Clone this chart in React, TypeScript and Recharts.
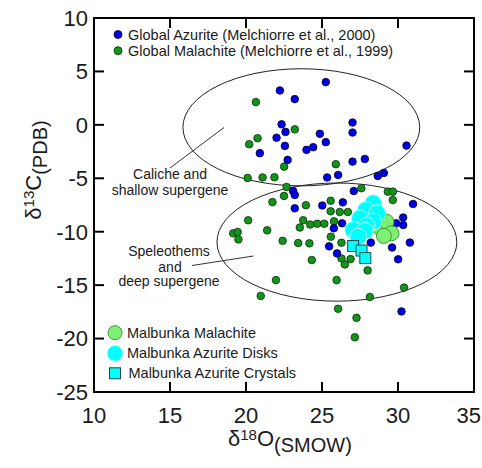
import React from 'react';
import { ScatterChart, Scatter, XAxis, YAxis, ReferenceArea, ReferenceLine } from 'recharts';

const xTicks = [10, 15, 20, 25, 30, 35];
const yTicks = [10, 5, 0, -5, -10, -15, -20, -25];

const globalAzurite = [
  { x: 25.25, y: 4.0 }, { x: 22.23, y: 3.22 }, { x: 23.21, y: 2.41 }, { x: 27.01, y: 0.22 },
  { x: 22.34, y: 0.05 }, { x: 22.6, y: -0.66 }, { x: 22.01, y: -1.2 }, { x: 22.56, y: -1.97 },
  { x: 20.91, y: -2.65 }, { x: 22.74, y: -3.28 }, { x: 23.98, y: -2.34 }, { x: 24.42, y: -2.09 },
  { x: 24.86, y: -0.84 }, { x: 25.25, y: -1.62 }, { x: 27.01, y: -0.72 }, { x: 27.01, y: -3.44 },
  { x: 27.82, y: -3.19 }, { x: 30.56, y: -1.94 }, { x: 25.34, y: -4.92 }, { x: 26.06, y: -4.69 },
  { x: 28.67, y: -4.78 }, { x: 29.07, y: -4.5 }, { x: 23.1, y: -6.19 }, { x: 23.21, y: -6.56 },
  { x: 27.09, y: -6.19 }, { x: 23.21, y: -7.81 }, { x: 25.02, y: -7.55 }, { x: 26.37, y: -7.25 },
  { x: 30.99, y: -7.4 }, { x: 25.78, y: -9.68 }, { x: 26.32, y: -9.21 }, { x: 30.34, y: -8.67 },
  { x: 29.88, y: -9.21 }, { x: 30.34, y: -9.37 }, { x: 25.47, y: -11.37 }, { x: 25.99, y: -12.03 },
  { x: 28.21, y: -11.02 }, { x: 29.61, y: -11.48 }, { x: 30.78, y: -11.02 }, { x: 30.01, y: -12.58 },
  { x: 30.23, y: -17.46 },
];

const globalMalachite = [
  { x: 20.65, y: 2.13 }, { x: 23.21, y: -0.42 }, { x: 20.76, y: -1.25 }, { x: 20.21, y: -1.81 },
  { x: 25.91, y: -3.68 }, { x: 22.51, y: -3.91 }, { x: 20.11, y: -4.97 }, { x: 21.09, y: -4.92 },
  { x: 21.87, y: -4.9 }, { x: 22.67, y: -5.81 }, { x: 22.5, y: -6.65 }, { x: 27.59, y: -5.93 },
  { x: 29.33, y: -6.25 }, { x: 29.66, y: -6.25 }, { x: 29.66, y: -7.03 }, { x: 21.74, y: -7.23 },
  { x: 23.94, y: -7.52 }, { x: 25.57, y: -7.1 }, { x: 25.57, y: -8.09 }, { x: 26.17, y: -8.15 },
  { x: 26.7, y: -8.15 }, { x: 20.14, y: -8.93 }, { x: 21.39, y: -9.87 }, { x: 23.76, y: -8.93 },
  { x: 23.54, y: -9.61 }, { x: 24.22, y: -9.33 }, { x: 24.69, y: -9.25 }, { x: 25.15, y: -9.25 },
  { x: 25.79, y: -9.03 }, { x: 19.16, y: -10.15 }, { x: 19.45, y: -10.03 }, { x: 19.5, y: -10.72 },
  { x: 22.41, y: -10.85 }, { x: 23.43, y: -11.06 }, { x: 24.17, y: -11.09 }, { x: 25.58, y: -10.47 },
  { x: 26.28, y: -11.03 }, { x: 24.33, y: -12.65 }, { x: 26.28, y: -12.5 }, { x: 26.88, y: -12.56 },
  { x: 26.5, y: -13.06 }, { x: 28.0, y: -13.62 }, { x: 21.97, y: -14.53 }, { x: 25.96, y: -14.53 },
  { x: 20.97, y: -16.01 }, { x: 30.4, y: -15.23 }, { x: 28.15, y: -16.11 }, { x: 26.06, y: -17.21 },
  { x: 27.27, y: -18.06 }, { x: 27.16, y: -19.88 },
];

const malbunkaMalachite = [
  { x: 28.85, y: -9.68 }, { x: 29.24, y: -9.06 }, { x: 29.57, y: -10.14 }, { x: 29.07, y: -10.39 },
];

const malbunkaAzuriteDisks = [
  { x: 28.36, y: -7.33 }, { x: 27.88, y: -7.97 }, { x: 28.63, y: -8.28 }, { x: 27.49, y: -8.75 },
  { x: 28.36, y: -9.06 }, { x: 27.93, y: -9.44 }, { x: 27.05, y: -9.84 }, { x: 27.82, y: -9.94 },
  { x: 27.38, y: -10.47 },
];

const malbunkaAzuriteCrystals = [
  { x: 27.05, y: -11.34 }, { x: 27.6, y: -11.76 }, { x: 27.85, y: -12.47 },
];

// Field ellipses in data units: centre and semi-axes
const fieldEllipses = [
  { cx: 23.64, cy: -0.23, rx: 7.79, ry: 5.48 },
  { cx: 25.98, cy: -10.97, rx: 7.89, ry: 5.53 },
];

const X_MIN = 10, X_MAX = 35, Y_MIN = -25, Y_MAX = 10;
const TICK_LEN = 10;

const FONT = '"Liberation Sans", Arial, Helvetica, sans-serif';
const TXT = '#1a1a1a';
const TICK_FS = 22;

const circleShape = (r: number, fill: string, stroke: string, sw: number) => (p: any) => (
  <circle cx={p.cx} cy={p.cy} r={r} fill={fill} stroke={stroke} strokeWidth={sw} />
);
const squareShape = (s: number, fill: string, stroke: string) => (p: any) => (
  <rect x={p.cx - s / 2} y={p.cy - s / 2} width={s} height={s} fill={fill} stroke={stroke} strokeWidth={1} />
);
const ellipseShape = (p: any) => (
  <ellipse
    cx={p.x + p.width / 2}
    cy={p.y + p.height / 2}
    rx={Math.abs(p.width) / 2}
    ry={Math.abs(p.height) / 2}
    fill="none"
    stroke="#222"
    strokeWidth={1}
  />
);

// Frame with inward tick marks, drawn from the plot rectangle that Recharts hands to a ReferenceArea
const frameShape = (p: any) => {
  const x0 = p.x, y0 = p.y, w = p.width, h = p.height;
  const x1 = x0 + w, y1 = y0 + h;
  const sx = (v: number) => x0 + ((v - X_MIN) / (X_MAX - X_MIN)) * w;
  const sy = (v: number) => y1 - ((v - Y_MIN) / (Y_MAX - Y_MIN)) * h;
  const segs: any[] = [];
  xTicks.forEach((t) => {
    const px = sx(t);
    segs.push(<line key={'b' + t} x1={px} x2={px} y1={y1} y2={y1 - TICK_LEN} />);
    segs.push(<line key={'t' + t} x1={px} x2={px} y1={y0} y2={y0 + TICK_LEN} />);
  });
  yTicks.forEach((t) => {
    const py = sy(t);
    segs.push(<line key={'l' + t} x1={x0} x2={x0 + TICK_LEN} y1={py} y2={py} />);
    segs.push(<line key={'r' + t} x1={x1} x2={x1 - TICK_LEN} y1={py} y2={py} />);
  });
  return (
    <g stroke="#000" strokeWidth={2} fill="none">
      <rect x={x0} y={y0} width={w} height={h} />
      {segs}
    </g>
  );
};

const BOTTOM_MARGIN = 15;
const BottomTick = (p: any) => {
  const { x, y, payload, index } = p;
  const last = index === xTicks.length - 1;
  return (
    <text
      x={last ? x + 7 : x}
      y={y + TICK_FS * 0.71}
      textAnchor={last ? 'end' : 'middle'}
      fontSize={TICK_FS}
      fontFamily={FONT}
      fill={TXT}
    >
      {payload.value}
    </text>
  );
};
const LEFT_MARGIN = 6;
const LeftTick = (p: any) => {
  const { x, y, payload } = p;
  return (
    <text x={x} y={y + TICK_FS * 0.355} textAnchor="end" fontSize={TICK_FS} fontFamily={FONT} fill={TXT}>
      {payload.value}
    </text>
  );
};

const BLUE = '#0000e6';
const GREEN = '#12931a';
const LGREEN = '#7def72';
const CYAN = '#00ffff';

export default function App() {
  return (
    <div style={{ position: 'absolute', left: 0, top: 0, width: 482, height: 468, background: '#fff' }}>
      <ScatterChart width={482} height={468} margin={{ top: 18, right: 8, bottom: 46, left: 0 }}>
        <XAxis
          xAxisId="b"
          type="number"
          dataKey="x"
          domain={[X_MIN, X_MAX]}
          ticks={xTicks}
          interval={0}
          height={30}
          tickSize={0}
          tickMargin={BOTTOM_MARGIN}
          axisLine={false}
          tickLine={false}
          tick={BottomTick}
          allowDataOverflow
        />
        <YAxis
          yAxisId="l"
          type="number"
          dataKey="y"
          domain={[Y_MIN, Y_MAX]}
          ticks={yTicks}
          interval={0}
          width={94}
          tickSize={0}
          tickMargin={LEFT_MARGIN}
          axisLine={false}
          tickLine={false}
          tick={LeftTick}
          allowDataOverflow
        />
        <ReferenceArea
          xAxisId="b"
          yAxisId="l"
          x1={X_MIN}
          x2={X_MAX}
          y1={Y_MIN}
          y2={Y_MAX}
          ifOverflow="visible"
          shape={frameShape}
        />
        {fieldEllipses.map((e, i) => (
          <ReferenceArea
            key={'e' + i}
            xAxisId="b"
            yAxisId="l"
            x1={e.cx - e.rx}
            x2={e.cx + e.rx}
            y1={e.cy - e.ry}
            y2={e.cy + e.ry}
            ifOverflow="visible"
            shape={ellipseShape}
          />
        ))}
        <Scatter xAxisId="b" yAxisId="l" data={globalMalachite} isAnimationActive={false}
          shape={circleShape(3.8, GREEN, '#0b2e0b', 0.8)} />
        <Scatter xAxisId="b" yAxisId="l" data={globalAzurite} isAnimationActive={false}
          shape={circleShape(3.8, BLUE, '#00002a', 0.8)} />
        <Scatter xAxisId="b" yAxisId="l" data={malbunkaMalachite} isAnimationActive={false}
          shape={circleShape(7.5, LGREEN, '#3f9c3a', 1)} />
        <Scatter xAxisId="b" yAxisId="l" data={malbunkaAzuriteDisks} isAnimationActive={false}
          shape={circleShape(8.5, CYAN, '#c8ffff', 1)} />
        <Scatter xAxisId="b" yAxisId="l" data={malbunkaAzuriteCrystals} isAnimationActive={false}
          shape={squareShape(11, CYAN, '#20484a')} />
      </ScatterChart>
      <svg
        width={482}
        height={468}
        style={{ position: 'absolute', left: 0, top: 0, pointerEvents: 'none' }}
        fontFamily={FONT}
      >
        {/* top legend */}
        <circle cx={118} cy={34.5} r={4} fill={BLUE} stroke="#00002a" strokeWidth={0.8} />
        <text x={128} y={39.5} fontSize={14.5} fill={TXT}>Global Azurite (Melchiorre et al., 2000)</text>
        <circle cx={118} cy={50.7} r={4} fill={GREEN} stroke="#0b2e0b" strokeWidth={0.8} />
        <text x={128} y={55.7} fontSize={14.5} fill={TXT}>Global Malachite (Melchiorre et al., 1999)</text>

        {/* bottom legend */}
        <circle cx={115} cy={332.7} r={7} fill={LGREEN} stroke="#3f9c3a" strokeWidth={1} />
        <text x={127} y={337.7} fontSize={14.5} fill={TXT}>Malbunka Malachite</text>
        <circle cx={115} cy={353.3} r={8} fill={CYAN} stroke="#c8ffff" strokeWidth={1} />
        <text x={127} y={358.3} fontSize={14.5} fill={TXT}>Malbunka Azurite Disks</text>
        <rect x={109.5} y={367.8} width={11} height={11} fill={CYAN} stroke="#20484a" strokeWidth={1} />
        <text x={128.5} y={378.3} fontSize={14.5} fill={TXT}>Malbunka Azurite Crystals</text>

        {/* annotations */}
        <line x1={170} y1={168} x2={224} y2={127.5} stroke="#333" strokeWidth={1} />
        <text x={170} y={179} fontSize={14} fill={TXT} textAnchor="middle">Caliche and</text>
        <text x={170} y={195} fontSize={14} fill={TXT} textAnchor="middle">shallow supergene</text>
        <line x1={192} y1={265.5} x2={253.5} y2={256} stroke="#333" strokeWidth={1} />
        <text x={169} y={256} fontSize={14} fill={TXT} textAnchor="middle">Speleothems</text>
        <text x={170} y={272} fontSize={14} fill={TXT} textAnchor="middle">and</text>
        <text x={169} y={286} fontSize={14} fill={TXT} textAnchor="middle">deep supergene</text>

        {/* axis titles */}
        <text x={228} y={446} fontSize={22} fill={TXT}>
          <tspan>δ</tspan>
          <tspan fontSize={15} dy={-6}>18</tspan>
          <tspan dy={6}>O</tspan>
          <tspan fontSize={20} dy={6}>(SMOW)</tspan>
        </text>
        <text transform="rotate(-90)" x={-170} y={41} fontSize={22} fill={TXT} textAnchor="middle">
          <tspan>δ</tspan>
          <tspan fontSize={15} dy={-7}>13</tspan>
          <tspan dy={7}>C</tspan>
          <tspan fontSize={20} dy={6}>(PDB)</tspan>
        </text>
      </svg>
    </div>
  );
}
